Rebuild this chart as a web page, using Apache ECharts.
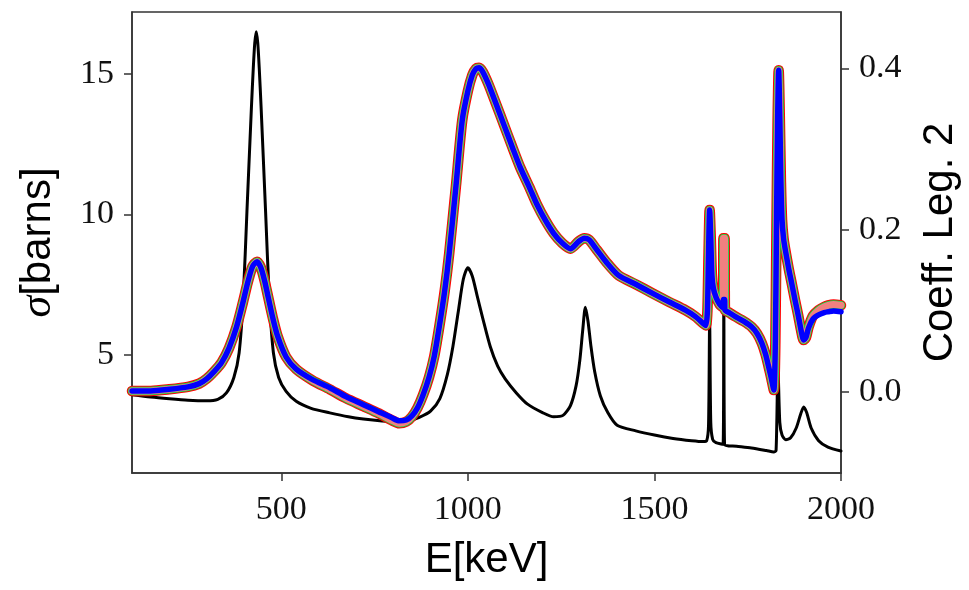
<!DOCTYPE html>
<html>
<head>
<meta charset="utf-8">
<script src="https://cdn.jsdelivr.net/npm/echarts@6/dist/echarts.min.js"></script>
<style>
html,body{margin:0;padding:0;background:#fff;}
#chart{width:969px;height:590px;}
</style>
</head>
<body>
<div id="chart"></div>
<script>
// ---- data ----
const xTicks = [500, 1000, 1500, 2000];
const sigmaTicks = [5, 10, 15];
const coefTicks = [0.0, 0.2, 0.4];

const energySigma = [100,150,200,250,300,330,353,373,387,398,408,420,425,429,433,437,441,446,458,468,479,493,513,540,580,630,680,720,770,810,840,870,900,925,945,960,975,988,1000,1012,1025,1040,1060,1080,1100,1130,1160,1200,1230,1255,1275,1290,1300,1308,1315,1322,1330,1340,1355,1375,1400,1450,1500,1550,1600,1630,1640,1645,1648,1651,1656,1665,1684,1686,1688,1720,1760,1800,1820,1826,1831,1836,1842,1852,1865,1880,1892,1900,1908,1920,1940,1965,2000];
const sigma = [3.58,3.50,3.44,3.39,3.37,3.42,3.65,4.2,5.07,7.0,10.1,13.8,15.2,16.1,16.5,16.1,15.2,13.8,10.1,7.0,5.07,4.2,3.7,3.35,3.1,2.94,2.80,2.72,2.65,2.62,2.65,2.78,3.0,3.45,4.3,5.3,6.6,7.7,8.1,7.8,7.1,6.3,5.3,4.6,4.15,3.65,3.25,2.95,2.8,2.85,3.2,3.9,4.8,5.9,6.7,6.2,5.3,4.4,3.55,2.95,2.5,2.3,2.15,2.03,1.95,1.92,1.95,2.5,6.2,2.6,2.0,1.88,1.82,7.2,1.8,1.75,1.69,1.6,1.55,1.6,4.6,2.6,2.15,1.98,2.05,2.4,2.9,3.15,2.95,2.4,1.95,1.72,1.58];

const energyCoef = [100,150,200,250,280,300,320,340,360,380,397,410,423,435,445,455,465,477,490,513,540,584,630,673,720,762,795,816,835,850,865,880,896,910,925,938,950,968,985,1000,1012,1022,1030,1040,1055,1075,1097,1119,1140,1164,1185,1208,1230,1253,1275,1297,1312,1325,1345,1370,1404,1450,1494,1540,1583,1610,1632,1638,1642,1645,1648,1651,1654,1658,1665,1675,1684,1685,1688,1689,1700,1717,1740,1761,1775,1788,1798,1806,1813,1820,1824,1827,1830,1833,1836,1839,1842,1846,1851,1860,1868,1877,1886,1893,1900,1906,1913,1925,1940,1955,1966,1980,2000];
const coefOuter = [0.001,0.001,0.003,0.006,0.010,0.016,0.025,0.036,0.054,0.080,0.110,0.135,0.155,0.161,0.154,0.138,0.117,0.092,0.069,0.043,0.028,0.014,0.003,-0.008,-0.018,-0.027,-0.035,-0.039,-0.037,-0.031,-0.020,-0.004,0.018,0.044,0.085,0.125,0.171,0.254,0.336,0.372,0.392,0.400,0.401,0.396,0.381,0.357,0.330,0.303,0.278,0.254,0.232,0.212,0.196,0.184,0.177,0.186,0.190,0.188,0.176,0.161,0.144,0.133,0.122,0.111,0.101,0.093,0.084,0.082,0.100,0.170,0.225,0.190,0.145,0.128,0.117,0.108,0.104,0.190,0.190,0.101,0.098,0.093,0.087,0.080,0.072,0.060,0.046,0.031,0.017,0.002,0.060,0.200,0.330,0.398,0.340,0.260,0.213,0.190,0.175,0.152,0.134,0.113,0.093,0.076,0.064,0.067,0.080,0.094,0.101,0.105,0.107,0.108,0.107];
const coefInner = [0.001,0.001,0.003,0.006,0.010,0.016,0.025,0.036,0.054,0.080,0.110,0.135,0.155,0.161,0.154,0.138,0.117,0.092,0.069,0.043,0.028,0.015,0.005,-0.006,-0.016,-0.025,-0.032,-0.036,-0.035,-0.030,-0.020,-0.004,0.018,0.044,0.085,0.125,0.171,0.254,0.336,0.372,0.392,0.400,0.401,0.396,0.381,0.357,0.330,0.303,0.278,0.254,0.232,0.212,0.196,0.184,0.177,0.186,0.190,0.188,0.176,0.161,0.144,0.133,0.122,0.111,0.101,0.093,0.084,0.082,0.100,0.170,0.225,0.190,0.145,0.128,0.117,0.108,0.104,0.114,0.114,0.101,0.098,0.093,0.087,0.080,0.072,0.060,0.046,0.031,0.017,0.002,0.060,0.200,0.330,0.398,0.340,0.260,0.213,0.190,0.175,0.152,0.134,0.113,0.093,0.076,0.064,0.067,0.079,0.090,0.095,0.098,0.099,0.100,0.099];

// ---- build series ----
const pair = (xs, ys) => xs.map((x, i) => [x, ys[i]]);
const sigmaData = pair(energySigma, sigma);
const outerData = pair(energyCoef, coefOuter);
const innerData = pair(energyCoef, coefInner);

const chart = echarts.init(document.getElementById('chart'), null, {renderer: 'canvas'});
const tickFont = {fontFamily: 'Liberation Serif', fontSize: 34, color: '#111'};
const axisLine = {show: true, onZero: false, lineStyle: {color: '#333', width: 1.5}};
const axisTick = (vals) => ({show: true, length: 8, lineStyle: {color: '#333', width: 1.5}, customValues: vals});

function line(data, yIdx, color, width) {
  return {
    type: 'line', data: data, yAxisIndex: yIdx, showSymbol: false, symbol: 'none',
    smooth: 0.25,
    lineStyle: {color: color, width: width, cap: 'round', join: 'round'},
    animation: false, silent: true
  };
}

chart.setOption({
  backgroundColor: '#fff',
  animation: false,
  grid: {left: 132, right: 127, top: 12, bottom: 117, show: true, borderColor: '#333', borderWidth: 1.5},
  xAxis: {
    type: 'value', min: 100, max: 2000,
    axisLine: axisLine, axisTick: axisTick(xTicks), splitLine: {show: false},
    axisLabel: Object.assign({customValues: xTicks, margin: 20, formatter: v => String(v)}, tickFont),
    name: 'E[keV]', nameLocation: 'middle', nameGap: 66,
    nameTextStyle: {fontFamily: 'Liberation Sans', fontSize: 42, color: '#000'}
  },
  yAxis: [
    {
      type: 'value', min: 0.8, max: 17.2, position: 'left',
      axisLine: axisLine, axisTick: axisTick(sigmaTicks), splitLine: {show: false},
      axisLabel: Object.assign({customValues: sigmaTicks, margin: 18, formatter: v => String(v)}, tickFont),
      name: '{s|σ}[barns]', nameLocation: 'middle', nameGap: 72, nameRotate: 90,
      nameTextStyle: {fontFamily: 'Liberation Sans', fontSize: 42, color: '#000',
        rich: {s: {fontFamily: 'Liberation Serif', fontStyle: 'italic', fontSize: 44, color: '#000'}}}
    },
    {
      type: 'value', min: -0.1006, max: 0.470, position: 'right',
      axisLine: axisLine, axisTick: axisTick(coefTicks), splitLine: {show: false},
      axisLabel: Object.assign({customValues: coefTicks, margin: 18, formatter: v => v.toFixed(1)}, tickFont),
      name: 'Coeff. Leg. 2', nameLocation: 'middle', nameGap: 78, nameRotate: 90,
      nameTextStyle: {fontFamily: 'Liberation Sans', fontSize: 42, color: '#000'}
    }
  ],
  series: [
    line(sigmaData, 0, '#000', 3),
    line(outerData, 1, '#ff0000', 10.5),
    line(outerData, 1, '#00e040', 8.5),
    line(outerData, 1, '#f08080', 7),
    line(innerData, 1, '#0000ff', 5.5)
  ]
});
</script>
</body>
</html>
